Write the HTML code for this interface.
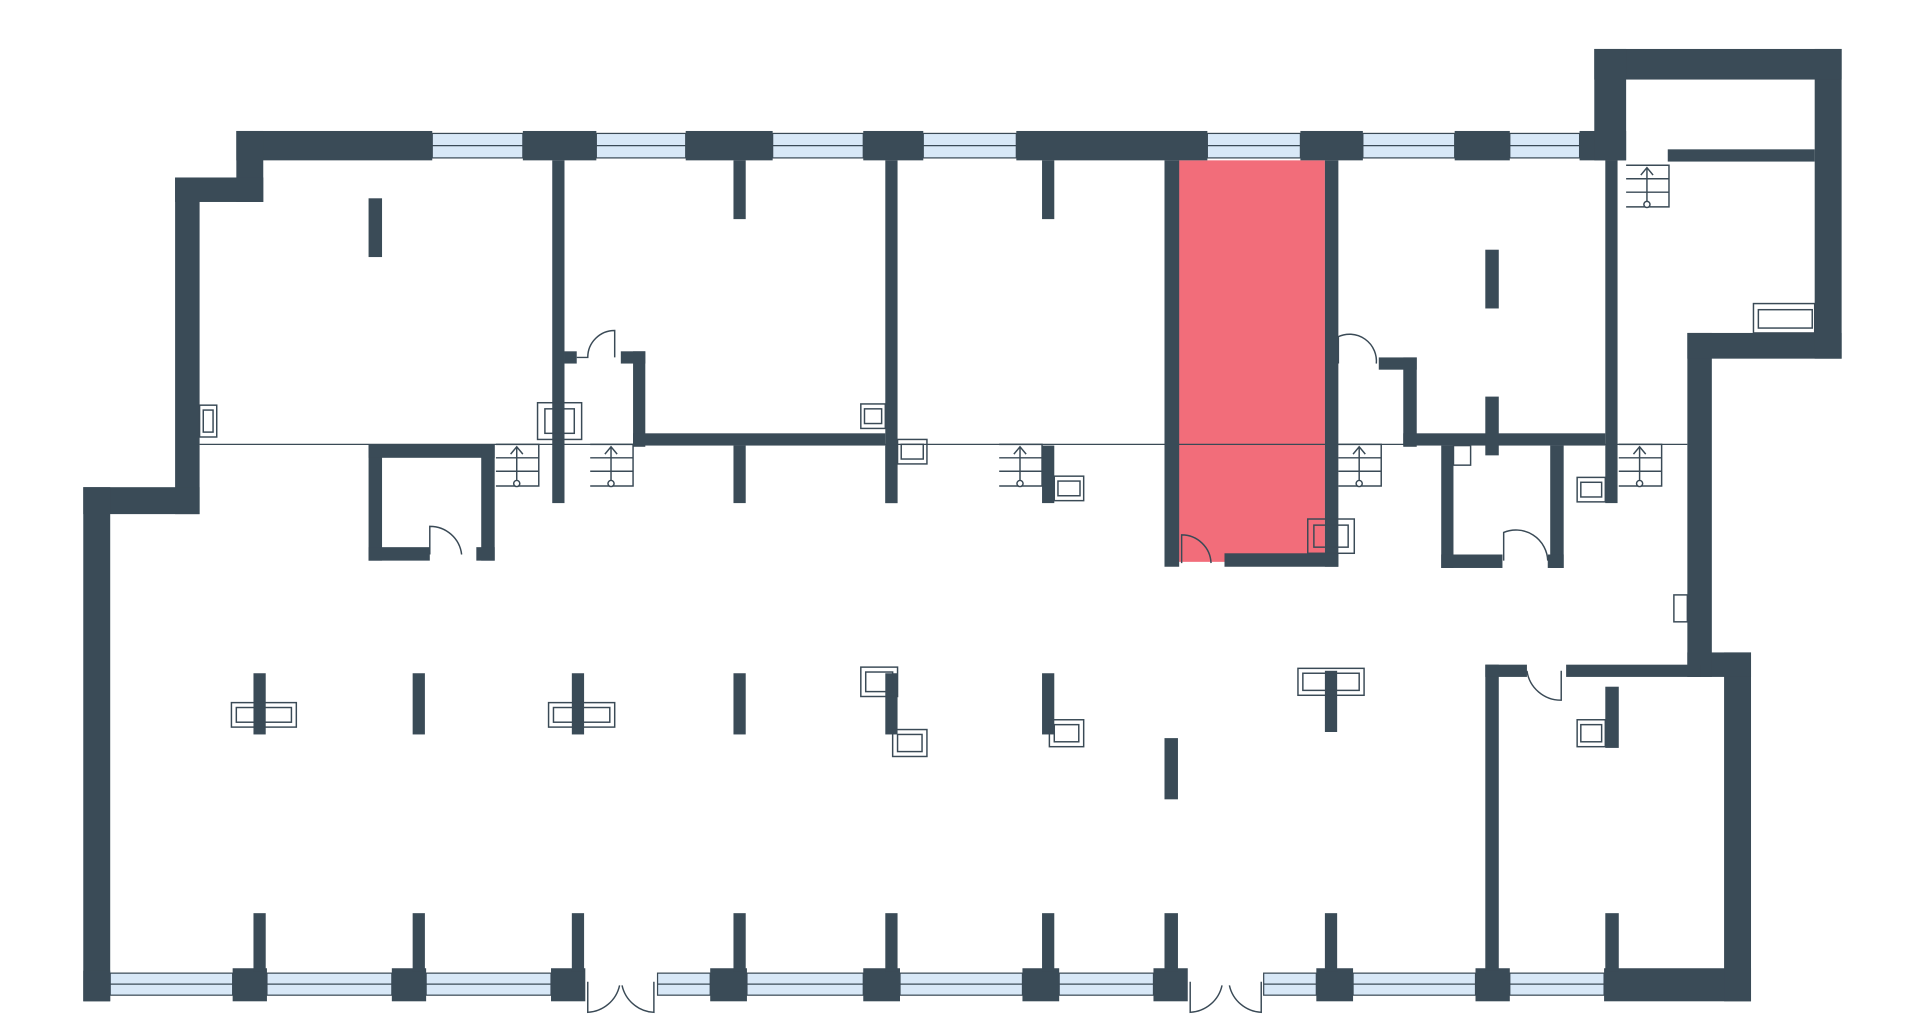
<!DOCTYPE html>
<html><head><meta charset="utf-8"><style>html,body{margin:0;padding:0;background:#fff;width:1920px;height:1027px;overflow:hidden}svg{display:block}</style></head><body>
<svg width="1920" height="1027" viewBox="0 0 1568 839" preserveAspectRatio="none" xmlns="http://www.w3.org/2000/svg">
<defs>
<g id="st" fill="none" stroke="#3a4a56" stroke-width="1.2">
<path d="M0 0 L35 0 L35 34 L0 34"/><line x1="0" y1="11" x2="35" y2="11"/><line x1="0" y1="22" x2="35" y2="22"/>
<line x1="17" y1="2" x2="17" y2="30"/><path d="M12 8 L17 2 L22 8"/><circle cx="17" cy="32" r="2.5" fill="#fff"/>
</g>
</defs>
<rect x="0" y="0" width="1568" height="839" fill="#fff"/>
<rect x="962" y="131" width="120" height="328" fill="#f26d7a"/>
<line x1="163" y1="363" x2="1378" y2="363" stroke="#3a4a56" stroke-width="1"/>
<g fill="#d8e8f7" stroke="#3a4a56" stroke-width="1">
<rect x="353" y="109" width="74" height="20"/><rect x="487" y="109" width="73" height="20"/><rect x="631" y="109" width="74" height="20"/><rect x="754" y="109" width="76" height="20"/><rect x="986" y="109" width="76" height="20"/><rect x="1113" y="109" width="75" height="20"/><rect x="1233" y="109" width="57" height="20"/>
<rect x="90" y="795" width="100" height="18"/><rect x="218" y="795" width="102" height="18"/><rect x="348" y="795" width="102" height="18"/><rect x="537" y="795" width="43" height="18"/><rect x="610" y="795" width="95" height="18"/><rect x="735" y="795" width="100" height="18"/><rect x="865" y="795" width="77" height="18"/><rect x="1032" y="795" width="43" height="18"/><rect x="1105" y="795" width="100" height="18"/><rect x="1233" y="795" width="77" height="18"/>
</g>
<g stroke="#3a4a56" stroke-width="1">
<line x1="353" y1="119" x2="1290" y2="119"/><line x1="90" y1="804" x2="450" y2="804"/><line x1="537" y1="804" x2="942" y2="804"/><line x1="1032" y1="804" x2="1310" y2="804"/>
</g>
<g fill="#3a4b57">
<rect x="193" y="107" width="160" height="24"/><rect x="427" y="107" width="60" height="24"/><rect x="560" y="107" width="71" height="24"/><rect x="705" y="107" width="49" height="24"/><rect x="830" y="107" width="156" height="24"/><rect x="1062" y="107" width="51" height="24"/><rect x="1188" y="107" width="45" height="24"/><rect x="1290" y="107" width="38" height="24"/>
<rect x="193" y="107" width="22" height="58"/><rect x="143" y="145" width="72" height="20"/><rect x="143" y="145" width="20" height="275"/><rect x="68" y="398" width="95" height="22"/><rect x="68" y="398" width="22" height="420"/>
<rect x="68" y="793" width="22" height="25"/><rect x="190" y="791" width="28" height="27"/><rect x="320" y="791" width="28" height="27"/><rect x="450" y="791" width="28" height="27"/><rect x="580" y="791" width="30" height="27"/><rect x="705" y="791" width="30" height="27"/><rect x="835" y="791" width="30" height="27"/><rect x="942" y="791" width="28" height="27"/><rect x="1075" y="791" width="30" height="27"/><rect x="1205" y="791" width="28" height="27"/><rect x="1310" y="791" width="120" height="27"/>
<rect x="1408" y="533" width="22" height="285"/><rect x="1378" y="533" width="52" height="20"/><rect x="1378" y="272" width="20" height="281"/><rect x="1378" y="272" width="126" height="21"/><rect x="1482" y="40" width="22" height="253"/><rect x="1302" y="40" width="202" height="25"/><rect x="1302" y="40" width="26" height="91"/>
<rect x="1362" y="122" width="120" height="10"/>
<rect x="451" y="131" width="10" height="280"/><rect x="599" y="131" width="10" height="48"/><rect x="723" y="131" width="10" height="280"/><rect x="851" y="131" width="10" height="48"/><rect x="301" y="162" width="11" height="48"/>
<rect x="951" y="131" width="12" height="332"/><rect x="1082" y="131" width="11" height="332"/><rect x="1000" y="452" width="93" height="11"/>
<rect x="1213" y="204" width="11" height="48"/><rect x="1311" y="131" width="10" height="280"/>
<rect x="517" y="287" width="10" height="78"/><rect x="507" y="287" width="20" height="10"/><rect x="517" y="354" width="206" height="10"/><rect x="461" y="287" width="10" height="10"/>
<rect x="1146" y="292" width="11" height="73"/><rect x="1126" y="292" width="31" height="10"/><rect x="1146" y="354" width="165" height="10"/><rect x="1213" y="324" width="11" height="48"/>
<rect x="301" y="363" width="11" height="95"/><rect x="301" y="363" width="103" height="11"/><rect x="301" y="447" width="50" height="11"/><rect x="393" y="363" width="11" height="95"/><rect x="389" y="447" width="15" height="11"/>
<rect x="599" y="364" width="10" height="47"/><rect x="723" y="364" width="10" height="47"/><rect x="851" y="364" width="10" height="47"/>
<rect x="1177" y="364" width="10" height="100"/><rect x="1177" y="453" width="50" height="11"/><rect x="1266" y="364" width="11" height="100"/><rect x="1264" y="453" width="13" height="11"/>
<rect x="207" y="550" width="10" height="50"/><rect x="337" y="550" width="10" height="50"/><rect x="467" y="550" width="10" height="50"/><rect x="599" y="550" width="10" height="50"/><rect x="723" y="550" width="10" height="50"/><rect x="851" y="550" width="10" height="50"/><rect x="951" y="603" width="11" height="50"/><rect x="1082" y="548" width="10" height="50"/>
<rect x="1213" y="543" width="11" height="250"/><rect x="1213" y="543" width="34" height="10"/><rect x="1279" y="543" width="110" height="10"/><rect x="1311" y="561" width="11" height="50"/>
<rect x="207" y="746" width="10" height="48"/><rect x="337" y="746" width="10" height="48"/><rect x="467" y="746" width="10" height="48"/><rect x="599" y="746" width="10" height="48"/><rect x="723" y="746" width="10" height="48"/><rect x="851" y="746" width="10" height="48"/><rect x="951" y="746" width="11" height="48"/><rect x="1082" y="746" width="10" height="48"/><rect x="1311" y="746" width="11" height="48"/>
</g>
<g fill="none" stroke="#3a4a56" stroke-width="1.2">
<rect x="163" y="331" width="14" height="26"/><rect x="166" y="335" width="8" height="18"/>
<rect x="439" y="329" width="36" height="30"/><rect x="445" y="334" width="24" height="20"/>
<rect x="703" y="330" width="20" height="20"/><rect x="706" y="334" width="14" height="12"/>
<rect x="733" y="359" width="24" height="20"/><rect x="736" y="363" width="18" height="12"/>
<rect x="861" y="389" width="24" height="20"/><rect x="864" y="393" width="18" height="12"/>
<rect x="1068" y="424" width="38" height="28"/><rect x="1073" y="429" width="28" height="18"/>
<rect x="1187" y="364" width="14" height="16"/><rect x="1288" y="390" width="23" height="20"/><rect x="1291" y="394" width="17" height="12"/>
<rect x="1432" y="248" width="50" height="24"/><rect x="1436" y="253" width="44" height="15"/><rect x="1367" y="486" width="11" height="22"/>
<rect x="189" y="574" width="53" height="20"/><rect x="193" y="578" width="45" height="12"/>
<rect x="448" y="574" width="54" height="20"/><rect x="452" y="578" width="46" height="12"/>
<rect x="703" y="545" width="30" height="24"/><rect x="707" y="549" width="22" height="16"/>
<rect x="729" y="596" width="28" height="22"/><rect x="733" y="600" width="20" height="14"/>
<rect x="857" y="588" width="28" height="22"/><rect x="861" y="592" width="20" height="14"/>
<rect x="1060" y="546" width="54" height="22"/><rect x="1064" y="550" width="46" height="14"/>
<rect x="1288" y="588" width="23" height="22"/><rect x="1291" y="592" width="17" height="14"/>
<path d="M351 453 L351 430 A26 26 0 0 1 377 453"/><path d="M471 292 L480 292 A22 22 0 0 1 502 270 L502 292"/>
<path d="M965 460 L965 437 A24 24 0 0 1 989 460"/><path d="M1093 297 L1093 275 A22 22 0 0 1 1124 297"/>
<path d="M1228 458 L1228 435 A26 26 0 0 1 1264 458"/><path d="M1247 548 A28 28 0 0 0 1275 572 L1275 548"/>
<path d="M480 802 L480 827 A28 28 0 0 0 506 805 M534 802 L534 827 A28 28 0 0 1 508 805"/>
<path d="M972 802 L972 827 A28 28 0 0 0 998 805 M1030 802 L1030 827 A28 28 0 0 1 1004 805"/>
</g>
<use href="#st" x="405" y="363"/><use href="#st" x="482" y="363"/><use href="#st" x="816" y="363"/><use href="#st" x="1093" y="363"/><use href="#st" x="1322" y="363"/><use href="#st" x="1328" y="135"/>
</svg>
</body></html>
